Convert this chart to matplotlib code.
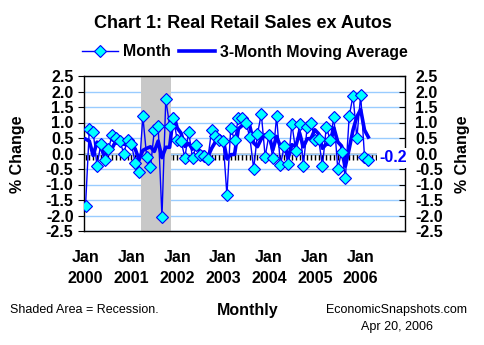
#!/usr/bin/env python3
"""Real retail sales ex autos, monthly % change with 3-month moving average."""

import matplotlib

matplotlib.use("Agg")
import matplotlib.pyplot as plt  # type: ignore
import numpy as np  # type: ignore
import pandas as pd  # type: ignore

plt.rcParams["font.family"] = ["Liberation Sans", "DejaVu Sans"]

# monthly % change, Jan 2000 .. Mar 2006
monthly = [
    -1.7, 0.8, 0.7, -0.4, 0.3, -0.2, 0.15, 0.6, 0.5, 0.4, 0.0, 0.45,
    0.3, -0.3, -0.6, 1.2, -0.1, -0.45, 0.75, 0.9, -2.05, 1.75, 0.9, 1.15,
    0.42, 0.4, -0.13, 0.7, -0.15, 0.27, -0.05, -0.08, -0.18, 0.76, 0.55, 0.43,
    0.41, -1.34, 0.82, 0.43, 1.14, 1.14, 0.99, 0.52, -0.49, 0.63, 1.28, -0.1,
    0.6, -0.15, 1.2, -0.38, 0.24, -0.35, 0.96, 0.08, 0.96, -0.39, 0.85, 1.0,
    0.45, 0.46, -0.41, 0.85, 0.45, 1.17, -0.49, 0.05, -0.79, 1.2, 1.87, 0.49,
    1.89, -0.1, -0.2,
]
# Nov and Dec 1999 (only feed the start of the moving average)
prior = [1.0, 2.1]
years = ["2000", "2001", "2002", "2003", "2004", "2005", "2006"]
recession_months = (14, 22)  # Mar 2001 .. Nov 2001
last_label = "-0.2"


def main():
    """Draw and save the chart."""
    idx = np.arange(len(monthly))
    moving = pd.Series(prior + monthly).rolling(3).mean().to_numpy()[2:]

    fig = plt.figure(figsize=(4.85, 3.45), dpi=100)
    ax = fig.add_axes([84 / 485, 114 / 345, 321 / 485, 155 / 345])

    ax.set_xlim(-0.4, 83.6)
    ax.set_ylim(-2.5, 2.5)
    yt = np.arange(-2.5, 2.51, 0.5)
    ax.set_yticks(yt)
    ax.set_yticklabels([f"{v:.1f}" for v in yt])
    ax.grid(axis="y", color="#99CCFF", linewidth=1)
    ax.set_axisbelow(True)

    ax.axvspan(recession_months[0] + 0.4, recession_months[1] + 0.4,
               color="#C8C8C8", zorder=1, linewidth=0)

    month_line, = ax.plot(idx, monthly, color="#0000FF", linewidth=1,
                          marker="D", markersize=6,
                          markerfacecolor="#00FFFF",
                          markeredgecolor="#0000FF", markeredgewidth=0.8,
                          zorder=4, label="Month")
    ma_line, = ax.plot(idx, moving, color="#0000FF", linewidth=2.6,
                       zorder=3, label="3-Month Moving Average")

    # zero line with monthly tick marks
    sec = ax.secondary_xaxis(0.5)
    sec.set_alignment("bottom")
    sec.set_xticks(np.arange(0, 84))
    sec.tick_params(direction="out", length=4, width=1, labelbottom=False,
                    color="black")
    sec.spines["bottom"].set_linewidth(1)

    jan = np.arange(0, 12 * len(years), 12)
    ax.set_xticks(jan)
    ax.set_xticklabels([f"Jan\n{y}" for y in years], fontsize=11.5,
                       fontweight="bold", linespacing=1.5)
    ax.tick_params(axis="x", length=0, pad=14)
    ax.tick_params(axis="y", labelsize=11.5, labelright=True, right=True,
                   length=4, direction="out")
    for tick in ax.yaxis.get_major_ticks():
        tick.tick2line.set_marker(matplotlib.lines.TICKLEFT)
        tick.tick2line.set_markersize(4)
    for lab in ax.get_yticklabels(which="both"):
        lab.set_fontweight("bold")

    for spine in ax.spines.values():
        spine.set_linewidth(1)

    ax.annotate(last_label, xy=(idx[-1], monthly[-1]), xytext=(18, 1.5),
                textcoords="offset points", ha="center", va="center",
                color="#0000FF", fontsize=11.5, fontweight="bold",
                bbox=dict(boxstyle="square,pad=0.15", facecolor="white",
                          edgecolor="none"),
                zorder=10, annotation_clip=False)

    fig.text(18 / 485, 1 - 154 / 345, "% Change", rotation=90, ha="center",
             va="center", fontsize=11.5, fontweight="bold")
    fig.text(463 / 485, 1 - 154 / 345, "% Change", rotation=90, ha="center",
             va="center", fontsize=11.5, fontweight="bold")

    fig.text(243 / 485, 1 - 24 / 345, "Chart 1: Real Retail Sales ex Autos",
             ha="center", va="center", fontsize=13, fontweight="bold")
    fig.legend(handles=[month_line, ma_line], loc="center",
               bbox_to_anchor=(245 / 485, 1 - 52 / 345), ncol=2,
               frameon=False, handlelength=2.3, handletextpad=0.3,
               columnspacing=0.5,
               prop={"size": 11.4, "weight": "bold"})

    fig.text(10 / 485, 1 - 310 / 345, "Shaded Area = Recession.",
             ha="left", va="center", fontsize=9)
    fig.text(248 / 485, 1 - 310 / 345, "Monthly", ha="center",
             va="center", fontsize=11.5, fontweight="bold")
    fig.text(397 / 485, 1 - 310 / 345, "EconomicSnapshots.com",
             ha="center", va="center", fontsize=9)
    fig.text(397 / 485, 1 - 327 / 345, "Apr 20, 2006", ha="center",
             va="center", fontsize=9)

    fig.savefig("out.png", dpi=100)


if __name__ == "__main__":
    main()
